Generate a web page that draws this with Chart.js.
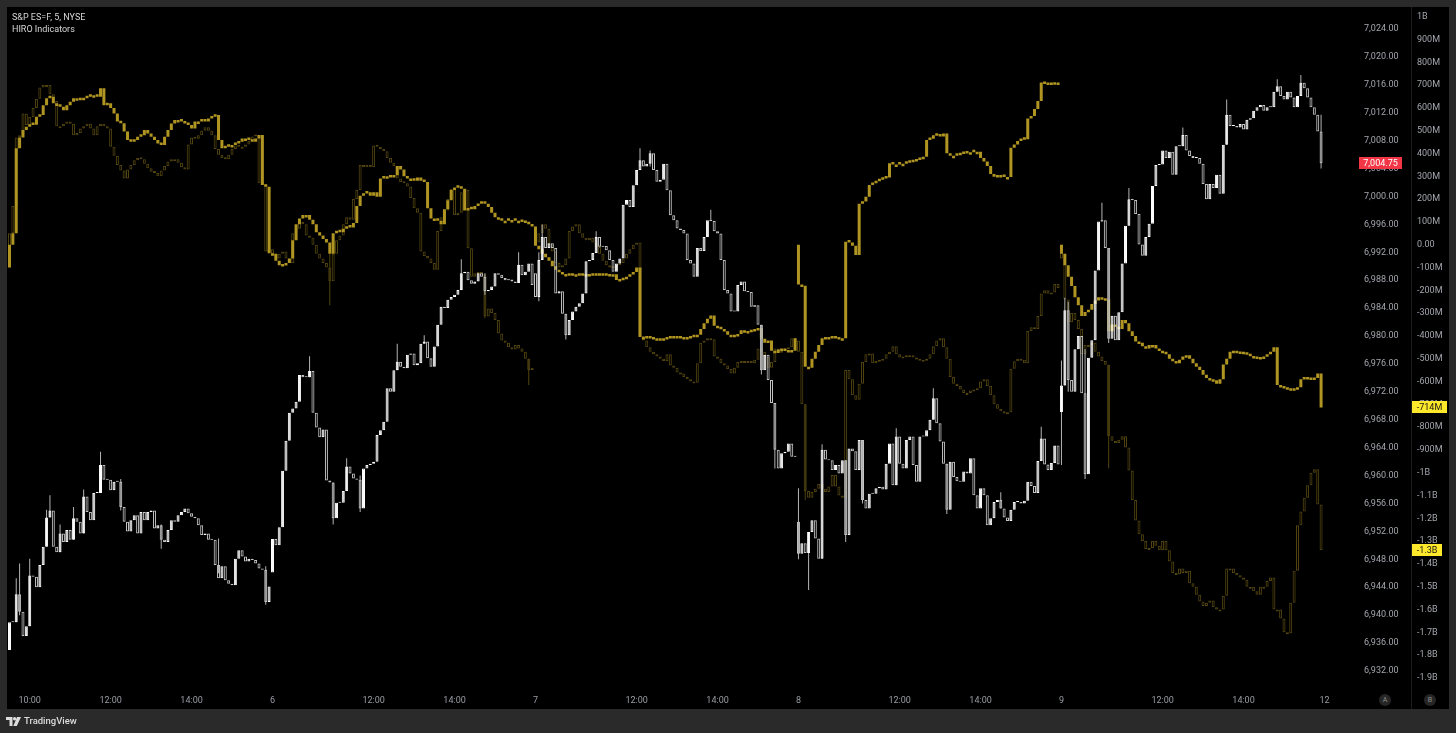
<!DOCTYPE html>
<html><head><meta charset="utf-8">
<script src="https://cdn.jsdelivr.net/npm/chart.js@4.4.1/dist/chart.umd.min.js"></script>
<style>
html,body{margin:0;padding:0;background:#2a2a2a;}
body{width:1456px;height:733px;position:relative;overflow:hidden;font-family:Roboto,"Noto Sans",sans-serif;}
#panel{position:absolute;left:7px;top:7px;width:1442px;height:702px;background:#000;}
#divider{position:absolute;left:1411px;top:7px;width:1px;height:702px;background:#1c1c1c;}
canvas{position:absolute;left:0;top:0;}
.t{position:absolute;left:12px;font-size:9px;line-height:9px;color:#d6d6d6;white-space:nowrap;}
.btn{position:absolute;top:694px;width:12px;height:12px;border-radius:50%;background:#262626;color:#8c8c8c;font-size:7px;line-height:12px;text-align:center;}
#logo{position:absolute;left:6px;top:716px;display:flex;align-items:center;gap:3px;color:#dcdcdc;font-size:9.5px;font-weight:500;line-height:10px;}
</style></head>
<body>
<div id="panel"></div>
<div id="divider"></div>
<canvas id="c" width="1456" height="733"></canvas>
<div class="t" style="top:13px">S&amp;P ES=F, 5, NYSE</div>
<div class="t" style="top:25px">HIRO Indicators</div>
<div class="btn" style="left:1379px">A</div>
<div class="btn" style="left:1424px">B</div>
<div id="logo"><svg width="15" height="9" viewBox="0 0 15 9"><path d="M0 0h6.5v9h-3v-6H0z" fill="#dcdcdc"/><circle cx="8.6" cy="1.8" r="1.7" fill="#dcdcdc"/><path d="M11 0h4l-4.2 9H7.3z" fill="#dcdcdc"/></svg><span>TradingView</span></div>
<script>
// ---- session structure ----
const sessionStart = [0, 78, 156, 234, 312];
const slotCount = 396; // 390 bars + future slots to the right edge
const timeTickBars = [6, 30, 54, 78, 108, 132, 156, 186, 210, 234, 264, 288, 312, 342, 366, 390];
const timeTickLabels = ['10:00','12:00','14:00','6','12:00','14:00','7','12:00','14:00','8','12:00','14:00','9','12:00','14:00','12'];

// ---- S&P ES=F 5-min closes ----
const priceOpen = [6935.0, 6946.1, 6989.0, 6953.4, 6969.1];
const priceClose = [
6939.0,6939.0,6943.0,6940.5,6937.0,6938.4,6945.7,6945.5,6944.0,6947.2,
6949.8,6954.0,6955.0,6949.8,6949.0,6951.7,6950.5,6952.2,6950.8,6953.9,
6953.4,6951.7,6957.0,6954.8,6953.6,6957.5,6957.5,6961.5,6959.4,6959.4,
6957.9,6959.1,6959.1,6955.5,6953.4,6952.0,6953.6,6954.3,6951.7,6954.8,
6953.6,6954.8,6955.0,6952.4,6952.9,6950.8,6950.5,6952.2,6953.6,6953.4,
6954.3,6954.8,6955.3,6954.6,6954.1,6953.9,6952.9,6951.5,6951.7,6950.8,
6950.8,6947.2,6945.3,6947.0,6945.0,6944.5,6944.3,6948.1,6949.3,6948.4,
6947.7,6948.1,6947.9,6947.4,6946.7,6946.5,6941.9,6944.1,
6950.9,6950.0,6952.6,6960.7,6965.0,6969.0,6969.6,6970.6,6974.4,6974.1,
6974.1,6975.0,6969.0,6966.9,6965.5,6966.6,6959.3,6959.0,6953.9,6956.1,
6956.1,6957.8,6961.3,6960.3,6959.6,6959.4,6955.3,6961.0,6961.5,6961.7,
6962.0,6965.8,6966.5,6967.7,6972.5,6972.0,6975.1,6976.3,6975.6,6975.4,
6977.3,6977.5,6975.8,6976.1,6978.9,6979.2,6976.8,6975.6,6978.5,6981.6,
6984.2,6984.0,6985.2,6985.6,6985.9,6986.6,6989.0,6989.2,6988.0,6987.5,
6987.8,6989.0,6988.5,6986.4,6986.6,6987.1,6989.0,6988.8,6988.3,6988.0,
6988.1,6987.8,6987.6,6990.2,6988.7,6989.2,6990.4,6987.3,
6985.6,6990.9,6994.2,6992.6,6993.3,6992.6,6986.1,6986.4,6983.2,6980.1,
6982.3,6983.5,6984.2,6984.7,6986.1,6990.7,6990.9,6991.9,6994.2,6992.8,
6992.9,6992.3,6990.9,6989.2,6990.4,6991.1,6998.8,6999.5,6998.5,7001.6,
7003.8,7005.2,7004.3,7004.7,7006.2,7003.8,7002.1,7002.4,7004.7,7000.9,
6997.3,6996.6,6995.4,6995.2,6994.7,6990.9,6990.4,6988.5,6992.6,6992.2,
6994.2,6996.6,6996.5,6995.0,6994.7,6990.9,6986.6,6986.1,6983.5,6983.5,
6987.3,6987.8,6986.4,6986.3,6984.2,6984.4,6981.6,6975.1,6977.3,6973.7,
6970.4,6963.7,6961.0,6963.2,6963.4,6964.6,6962.7,6962.7,
6948.8,6950.3,6948.9,6951.9,6953.6,6951.0,6948.1,6963.7,6962.3,6962.2,
6960.8,6961.5,6960.3,6962.2,6951.5,6963.9,6963.5,6960.8,6965.1,6956.5,
6955.3,6957.4,6957.4,6958.2,6958.4,6958.0,6961.7,6964.6,6958.6,6965.6,
6961.7,6961.0,6965.1,6965.6,6961.5,6959.1,6965.6,6965.6,6966.5,6968.0,
6971.1,6967.5,6964.9,6961.7,6955.1,6962.0,6959.8,6959.2,6959.1,6960.6,
6960.3,6962.5,6957.2,6955.3,6958.2,6957.2,6952.9,6953.9,6956.2,6956.5,
6955.3,6954.0,6953.5,6955.1,6956.2,6956.2,6956.0,6956.4,6959.1,6958.5,
6957.5,6962.1,6965.3,6961.6,6960.8,6961.8,6964.3,6961.6,
6972.9,6983.7,6973.7,6972.0,6978.1,6980.0,6971.8,6960.2,6976.9,6979.4,
6989.4,6996.4,6996.6,6992.6,6979.6,6982.9,6979.4,6983.4,6990.4,6995.8,
6999.6,6999.5,6997.5,6993.1,6991.5,6994.2,6996.1,7001.5,7004.5,7004.6,
7006.6,7005.5,7006.4,7003.1,7007.2,7007.2,7008.8,7006.6,7005.8,7005.5,
7005.5,7004.7,7001.8,6999.6,7001.8,7001.2,7003.1,7000.4,7007.4,7011.7,
7010.1,7010.1,7009.9,7010.4,7009.6,7011.0,7011.2,7012.3,7012.8,7013.1,
7012.3,7012.8,7012.8,7015.0,7015.8,7014.4,7013.9,7015.0,7014.2,7012.8,
7014.4,7016.3,7015.5,7014.2,7012.8,7011.7,7009.3,7004.75];
// notable wicks: [bar, low, high]
const priceWicks = [
[2,6939.0,6945.3],[3,6940.0,6947.4],[6,6938.4,6948.1],[11,6949.8,6955.1],[12,6954.0,6957.2],
[15,6949.0,6953.0],[19,6950.8,6955.5],[22,6951.7,6958.0],[27,6957.5,6963.4],[33,6955.0,6959.5],
[45,6949.5,6953.0],[62,6946.0,6951.0],[76,6941.5,6947.0],[89,6974.1,6977.1],[96,6953.0,6959.0],
[100,6957.8,6962.5],[104,6954.8,6960.0],[115,6975.1,6978.9],[123,6978.9,6980.1],[134,6986.6,6991.0],
[141,6985.9,6989.0],[151,6987.6,6992.0],[157,6985.0,6992.0],[158,6990.9,6996.0],[165,6979.5,6983.2],
[174,6991.9,6995.0],[187,7004.3,7006.9],[190,7004.3,7006.6],[208,6996.5,6998.1],[223,6974.5,6981.6],
[227,6961.0,6970.4],[234,6948.0,6958.2],[237,6943.6,6951.9],[241,6948.1,6964.5],[248,6950.5,6962.2],
[253,6956.0,6965.1],[263,6958.6,6966.8],[274,6968.0,6972.5],[278,6954.5,6961.7],[294,6955.3,6957.6],
[306,6962.1,6967.0],[312,6961.5,6976.5],[313,6972.9,6985.5],[314,6972.0,6984.9],[319,6959.5,6978.1],
[324,6996.4,6999.1],[326,6979.0,6992.6],[332,6995.8,7001.2],[348,7007.2,7009.9],[361,7007.4,7013.9],
[376,7015.0,7016.8],[383,7014.4,7017.4],[389,7004.0,7011.7]];

// ---- HIRO (bright) in millions ----
const hiroAOpen = [-100, -38, 80, 0, 0];
const hiroA = [
0,50,423,470,503,517,525,526,561,569,
612,642,649,620,608,605,590,612,627,642,
642,634,642,649,656,656,649,686,612,620,
600,575,540,533,496,459,452,459,474,480,
503,488,474,459,444,437,474,503,532,547,
547,540,532,525,510,540,540,547,540,554,
561,569,459,423,430,437,437,444,452,466,
466,459,452,466,481,262,254,-38,
-40,-70,-90,-85,-80,-60,20,90,115,130,
130,110,90,55,40,25,10,-40,50,60,
55,70,80,75,95,170,215,225,230,215,
230,210,290,300,300,295,305,345,330,300,
290,290,280,295,280,275,160,115,115,105,
90,155,195,240,250,252,245,150,160,155,
170,180,185,180,165,140,120,110,105,105,
108,108,105,105,100,95,90,80,
-5,-20,-40,-55,-70,-95,-110,-120,-130,-128,
-125,-130,-135,-125,-128,-130,-128,-125,-125,-130,
-125,-128,-130,-130,-155,-150,-145,-140,-130,-120,
-100,-405,-410,-400,-405,-410,-410,-415,-410,-405,
-400,-405,-400,-410,-405,-408,-400,-395,-395,-370,
-345,-325,-310,-355,-360,-370,-380,-395,-400,-395,
-392,-375,-380,-378,-373,-370,-365,-412,-430,-420,
-465,-475,-460,-455,-465,-462,-465,-410,
-175,-180,-535,-540,-500,-470,-440,-410,-405,-405,
-400,-405,-415,-410,13,10,-5,-45,180,190,
210,262,270,278,285,290,295,357,352,352,
355,355,360,362,365,372,375,386,459,465,
480,478,475,488,401,390,390,392,398,400,
405,405,408,408,380,365,345,310,298,295,
300,297,297,425,440,455,460,462,554,565,
595,630,711,705,700,702,705,700,
-40,-90,-140,-181,-230,-265,-313,-295,-285,-260,
-245,-230,-235,-240,-380,-350,-360,-370,-330,-345,
-380,-400,-425,-430,-445,-455,-440,-440,-455,-465,
-470,-480,-500,-510,-520,-505,-490,-485,-500,-520,
-535,-550,-570,-585,-590,-595,-610,-590,-525,-500,
-470,-465,-468,-470,-472,-478,-488,-490,-492,-495,
-490,-480,-470,-450,-615,-620,-625,-630,-635,-630,
-625,-590,-580,-585,-582,-585,-565,-714];
const hiroAWicks = [];

// ---- HIRO (dim) in millions ----
const hiroBOpen = [-50, -20, 0, -420, 0];
const hiroB = [
50,170,470,480,575,525,560,600,640,690,
700,700,660,630,520,520,530,540,530,480,
490,510,520,530,510,480,520,530,520,510,
430,390,350,325,290,330,350,370,380,375,
355,335,320,315,300,325,345,365,375,375,
360,340,330,440,470,465,480,500,515,500,
480,420,395,380,375,395,420,435,430,430,
440,455,475,480,270,265,-30,-20,
-40,-60,-40,-30,-60,-80,50,70,100,90,
40,30,0,-40,-60,-80,-100,-160,-40,20,
40,90,120,110,200,240,350,340,350,340,
435,430,420,410,380,360,345,290,275,270,
255,205,160,140,-30,-50,-60,-80,-110,60,
120,150,200,245,130,140,230,240,-15,-140,
-125,-120,-130,-315,-280,-300,-330,-390,-420,-430,
-450,-460,-440,-455,-470,-500,-550,-540,
10,50,90,70,0,-30,-80,-100,-90,-60,
60,80,90,50,30,20,30,10,-10,-40,
-70,-90,-100,-95,-90,-80,-60,-40,-20,0,
10,-400,-420,-450,-470,-480,-490,-500,-510,-480,
-530,-540,-560,-565,-580,-590,-600,-605,-520,-430,
-420,-410,-415,-490,-500,-520,-530,-545,-565,-540,
-515,-510,-515,-510,-520,-505,-455,-470,-490,-540,
-515,-455,-470,-465,-455,-450,-410,-420,
-470,-700,-1080,-1110,-1085,-1070,-1050,-1070,-1085,-1060,
-1010,-1060,-1100,-1110,-550,-590,-660,-680,-610,-515,
-480,-477,-520,-510,-505,-500,-480,-470,-445,-480,
-495,-490,-485,-485,-495,-500,-505,-505,-500,-480,
-445,-420,-410,-450,-500,-580,-610,-620,-635,-650,
-650,-640,-635,-630,-600,-590,-620,-660,-700,-720,
-730,-740,-735,-544,-511,-500,-505,-520,-378,-362,
-370,-313,-214,-200,-215,-210,-172,-190,
-60,-240,-340,-300,-330,-370,-480,-440,-440,-430,
-470,-490,-510,-527,-840,-860,-870,-855,-840,-890,
-990,-1120,-1210,-1270,-1300,-1335,-1330,-1300,-1320,-1340,
-1300,-1340,-1390,-1440,-1445,-1420,-1440,-1430,-1485,-1500,
-1535,-1565,-1585,-1570,-1560,-1590,-1600,-1600,-1540,-1420,
-1420,-1440,-1450,-1460,-1470,-1500,-1500,-1520,-1535,-1500,
-1500,-1475,-1460,-1600,-1600,-1640,-1700,-1705,-1570,-1430,
-1230,-1170,-1110,-1055,-1000,-985,-1140,-1340];
const hiroBWicks = [[95,-265,-40],[141,-322,-130],[154,-615,-500],[236,-1120,-700],[326,-981,-527]];

// ---- axis ticks ----
const priceTicks = [6932,6936,6940,6944,6948,6952,6956,6960,6964,6968,6972,6976,6980,6984,6988,6992,6996,7000,7004,7008,7012,7016,7020,7024];
const hiroTickValues = [1000,900,800,700,600,500,400,300,200,100,0,-100,-200,-300,-400,-500,-600,-700,-800,-900,-1000,-1100,-1200,-1300,-1400,-1500,-1600,-1700,-1800,-1900];
const hiroTickLabels = ['1B','900M','800M','700M','600M','500M','400M','300M','200M','100M','0.00','-100M','-200M','-300M','-400M','-500M','-600M','-700M','-800M','-900M','-1B','-1.1B','-1.2B','-1.3B','-1.4B','-1.5B','-1.6B','-1.7B','-1.8B','-1.9B'];

[['priceClose',priceClose],['hiroA',hiroA],['hiroB',hiroB]].forEach(([n,a])=>{ if(a.length!==390) console.error(n+' length '+a.length); });

function bodies(close, opens) {
  return close.map((c, i) => {
    const s = sessionStart.indexOf(i);
    const o = s >= 0 ? opens[s] : close[i - 1];
    return [o, c];
  });
}
function wickData(list) {
  const arr = new Array(390).fill(null);
  list.forEach(([i, lo, hi]) => { arr[i] = [lo, hi]; });
  return arr;
}
const pBody = bodies(priceClose, priceOpen);
const aBody = bodies(hiroA, hiroAOpen);
const bBody = bodies(hiroB, hiroBOpen);

const fmtPrice = v => v.toLocaleString('en-US', {minimumFractionDigits: 2, maximumFractionDigits: 2});
const fmtHiro = v => Math.abs(v) >= 1000 ? (v / 1000).toFixed(1) + 'B' : Math.round(v) + 'M';

const WHITE = '#ffffff', DOWNLINE = '#c4c4c4';
const GOLD = '#b09522', DIM = '#514410';

const common = { type: 'bar', grouped: false, minBarLength: 1, inflateAmount: 0, borderSkipped: false };

const tagPlugin = {
  id: 'tags',
  afterDraw(chart) {
    const ctx = chart.ctx, yP = chart.scales.yP, yH = chart.scales.yH;
    ctx.save();
    ctx.font = '9px Roboto';
    ctx.textBaseline = 'middle'; ctx.textAlign = 'center';
    function tag(x, v, scale, bg, fg, text) {
      const y = Math.round(scale.getPixelForValue(v));
      const w = Math.round(ctx.measureText(text).width + 9);
      ctx.fillStyle = bg; ctx.fillRect(x, y - 6, w, 12);
      ctx.fillStyle = fg; ctx.fillText(text, x + w / 2, y + 0.5);
    }
    const lp = priceClose[priceClose.length - 1];
    tag(yP.left + 16, lp, yP, '#f23645', '#ffffff', fmtPrice(lp));
    const la = hiroA[hiroA.length - 1], lb = hiroB[hiroB.length - 1];
    tag(yH.left, la, yH, '#fde82b', '#131313', fmtHiro(la));
    tag(yH.left, lb, yH, '#fde82b', '#131313', fmtHiro(lb));
    ctx.restore();
  }
};

Chart.defaults.font.family = 'Roboto';
Chart.defaults.font.size = 9;

const noPad = s => { s.paddingTop = 0; s.paddingBottom = 0; s.paddingLeft = 0; s.paddingRight = 0; };

new Chart(document.getElementById('c'), {
  type: 'bar',
  data: {
    labels: Array.from({length: slotCount}, (_, i) => i),
    datasets: [
      Object.assign({}, common, { label: 'ES body', order: 0, yAxisID: 'yP', data: pBody, barThickness: 3,
        backgroundColor: pBody.map(([o, c]) => c >= o ? WHITE : 'rgba(0,0,0,0)'),
        borderColor: pBody.map(([o, c]) => c >= o ? WHITE : DOWNLINE), borderWidth: 1 }),
      Object.assign({}, common, { label: 'ES wick', order: 1, yAxisID: 'yP', data: wickData(priceWicks), barThickness: 1,
        backgroundColor: '#b4b4b4', borderWidth: 0 }),
      Object.assign({}, common, { label: 'HIRO', order: 2, yAxisID: 'yH', data: aBody, barThickness: 3, minBarLength: 2.5,
        backgroundColor: GOLD, borderColor: GOLD, borderWidth: 0 }),
      Object.assign({}, common, { label: 'HIRO wick', order: 3, yAxisID: 'yH', data: wickData(hiroAWicks), barThickness: 1,
        backgroundColor: GOLD, borderWidth: 0 }),
      Object.assign({}, common, { label: 'HIRO 2', order: 4, yAxisID: 'yH', data: bBody, barThickness: 3, minBarLength: 2,
        backgroundColor: 'rgba(0,0,0,0)', borderColor: DIM, borderWidth: 1 }),
      Object.assign({}, common, { label: 'HIRO 2 wick', order: 5, yAxisID: 'yH', data: wickData(hiroBWicks), barThickness: 1,
        backgroundColor: DIM, borderWidth: 0 })
    ]
  },
  options: {
    responsive: false, animation: false, devicePixelRatio: 1,
    layout: { padding: { left: 7.8, right: 7, top: 8, bottom: 24 } },
    plugins: { legend: { display: false }, tooltip: { enabled: false } },
    scales: {
      x: {
        type: 'category', offset: true,
        grid: { display: false, drawTicks: false }, border: { display: false },
        afterFit: s => { s.height = 21; noPad(s); },
        ticks: {
          autoSkip: false, maxRotation: 0, minRotation: 0, padding: 7,
          callback: (v, i) => { const k = timeTickBars.indexOf(i); return k >= 0 ? timeTickLabels[k] : null; },
          color: c => { const k = timeTickBars.indexOf(c.index); return (k >= 0 && timeTickLabels[k].indexOf(':') < 0) ? '#e8e8e8' : '#9a9da5'; },
          font: c => { const k = timeTickBars.indexOf(c.index); return { family: 'Roboto', size: 9, weight: (k >= 0 && timeTickLabels[k].indexOf(':') < 0) ? '600' : '400' }; }
        }
      },
      yP: {
        position: 'right', weight: 0, min: 6929.56, max: 7027.01,
        grid: { display: false, drawTicks: false }, border: { display: false },
        afterBuildTicks: s => { s.ticks = priceTicks.map(v => ({ value: v })); },
        afterFit: s => { s.width = 69; noPad(s); },
        ticks: { padding: 21, crossAlign: 'near', color: '#a3a6ad', callback: v => fmtPrice(v) }
      },
      yH: {
        position: 'right', weight: 1, min: -1944.3, max: 1038.2,
        grid: { display: false, drawTicks: false }, border: { display: false },
        afterBuildTicks: s => { s.ticks = hiroTickValues.map(v => ({ value: v })); },
        afterFit: s => { s.width = 37; noPad(s); },
        ticks: { padding: 5, crossAlign: 'near', color: '#a3a6ad', callback: v => { const k = hiroTickValues.indexOf(v); return k >= 0 ? hiroTickLabels[k] : ''; } }
      }
    }
  },
  plugins: [tagPlugin]
});
</script>
</body></html>
